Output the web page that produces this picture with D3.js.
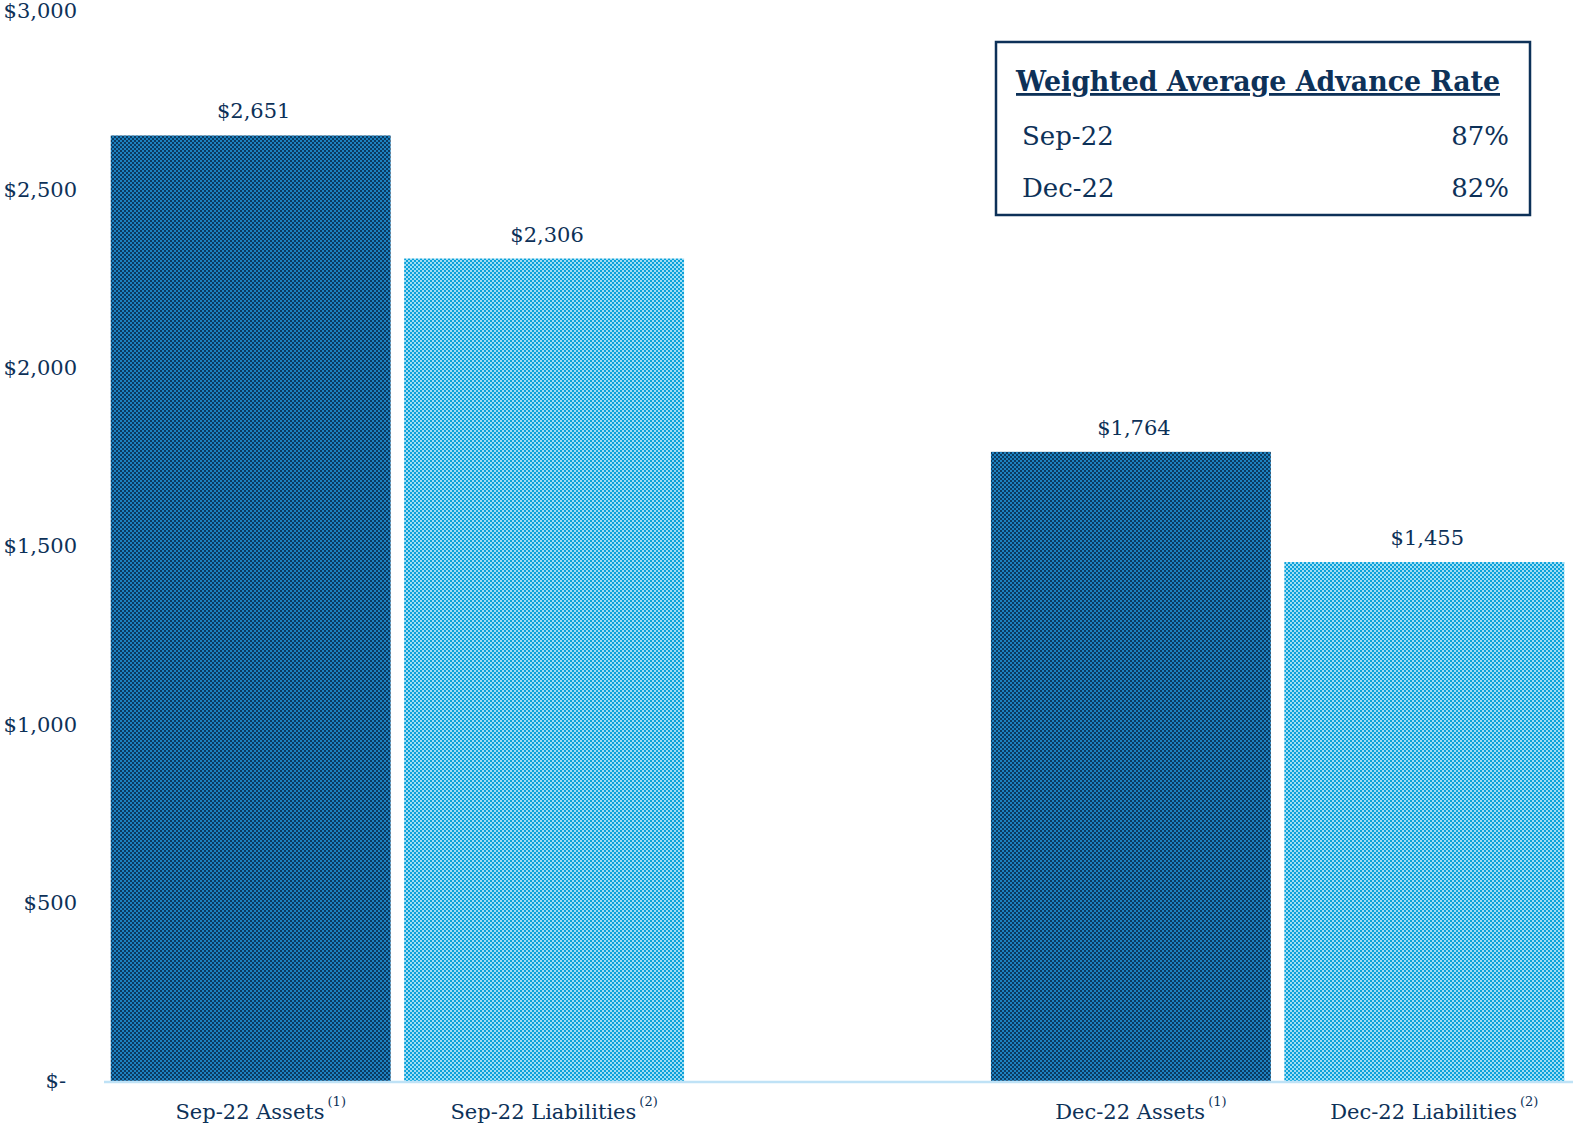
<!DOCTYPE html>
<html>
<head>
<meta charset="utf-8">
<script src="https://cdn.jsdelivr.net/npm/d3@7"></script>
<style>
  body { margin: 0; background: #fff; }
  text { font-family: "DejaVu Serif", Georgia, serif; fill: #0d3158; }
</style>
</head>
<body>
<div id="viz"></div>
<script>
// chart data
var categories = ["Sep-22 Assets", "Sep-22 Liabilities", "", "Dec-22 Assets", "Dec-22 Liabilities"]
var notes = ["(1)", "(2)", "", "(1)", "(2)"]
var values = [2651, 2306, null, 1764, 1455]
var kinds = ["assets", "liabilities", null, "assets", "liabilities"]
var yTicks = [0, 500, 1000, 1500, 2000, 2500, 3000]
var rateLabels = ["Sep-22", "Dec-22"]
var rateValues = ["87%", "82%"]

var width = 1573, height = 1130

var svg = d3.select("#viz")
    .append("svg")
    .attr("width", width)
    .attr("height", height)

// checkerboard fills
var defs = svg.append("defs")
function checker(id, c1, c2) {
    var p = defs.append("pattern")
        .attr("id", id)
        .attr("width", 4)
        .attr("height", 4)
        .attr("patternUnits", "userSpaceOnUse")
    p.append("rect").attr("width", 4).attr("height", 4).attr("fill", c1)
    p.append("rect").attr("width", 2).attr("height", 2).attr("fill", c2)
    p.append("rect").attr("x", 2).attr("y", 2).attr("width", 2).attr("height", 2).attr("fill", c2)
}
checker("pat-assets", "#0c3a60", "#1d82c0")
checker("pat-liabilities", "#0ba2da", "#9fddf4")

var x = d3.scaleBand()
    .domain(categories)
    .range([104, 1571])
    .paddingInner(0.046)
    .paddingOuter(0.023)

var y = d3.scaleLinear()
    .domain([0, 3000])
    .range([1081, 11])

// y axis labels
svg.append("g")
    .selectAll("text")
    .data(yTicks)
    .enter()
    .append("text")
    .attr("x", d => d === 0 ? 66 : 77)
    .attr("y", d => y(d))
    .attr("dy", "0.35em")
    .attr("text-anchor", "end")
    .style("font-size", "21px")
    .text(d => d === 0 ? "$-" : "$" + d3.format(",")(d))

// bars
var barData = categories.map((c, i) => ({cat: c, value: values[i], kind: kinds[i], note: notes[i]}))
    .filter(d => d.value !== null)

svg.append("g")
    .selectAll("rect")
    .data(barData)
    .enter()
    .append("rect")
    .attr("x", d => x(d.cat))
    .attr("y", d => y(d.value))
    .attr("width", x.bandwidth())
    .attr("height", d => y(0) - y(d.value))
    .attr("fill", d => "url(#pat-" + d.kind + ")")

// baseline
svg.append("line")
    .attr("x1", 104)
    .attr("x2", width)
    .attr("y1", y(0) + 1)
    .attr("y2", y(0) + 1)
    .attr("stroke", "#bfe2f6")
    .attr("stroke-width", 2.5)

// value labels
svg.append("g")
    .selectAll("text")
    .data(barData)
    .enter()
    .append("text")
    .attr("x", d => x(d.cat) + x.bandwidth() / 2 + 3)
    .attr("y", d => y(d.value) - 17)
    .attr("text-anchor", "middle")
    .style("font-size", "21px")
    .text(d => "$" + d3.format(",")(d.value))

// category labels with superscript notes
var cat = svg.append("g")
    .selectAll("text")
    .data(barData)
    .enter()
    .append("text")
    .attr("x", d => x(d.cat) + x.bandwidth() / 2 + 10)
    .attr("y", 1119)
    .attr("text-anchor", "middle")
    .style("font-size", "21px")
cat.append("tspan").text(d => d.cat)
cat.append("tspan")
    .attr("dx", 3)
    .attr("dy", -13)
    .style("font-size", "13px")
    .text(d => d.note)

// advance rate box
var box = svg.append("g")
box.append("rect")
    .attr("x", 996)
    .attr("y", 42)
    .attr("width", 534)
    .attr("height", 173)
    .attr("fill", "#fff")
    .attr("stroke", "#0d3158")
    .attr("stroke-width", 2.5)

box.append("text")
    .attr("x", 1016)
    .attr("y", 91)
    .attr("textLength", 484)
    .attr("lengthAdjust", "spacingAndGlyphs")
    .style("font-size", "28px")
    .style("font-weight", "bold")
    .style("text-decoration", "underline")
    .text("Weighted Average Advance Rate")

rateLabels.forEach((r, i) => {
    box.append("text")
        .attr("x", 1022)
        .attr("y", 145 + i * 52)
        .style("font-size", "26px")
        .text(r)
    box.append("text")
        .attr("x", 1509)
        .attr("y", 145 + i * 52)
        .attr("text-anchor", "end")
        .style("font-size", "26px")
        .text(rateValues[i])
})
</script>
</body>
</html>
